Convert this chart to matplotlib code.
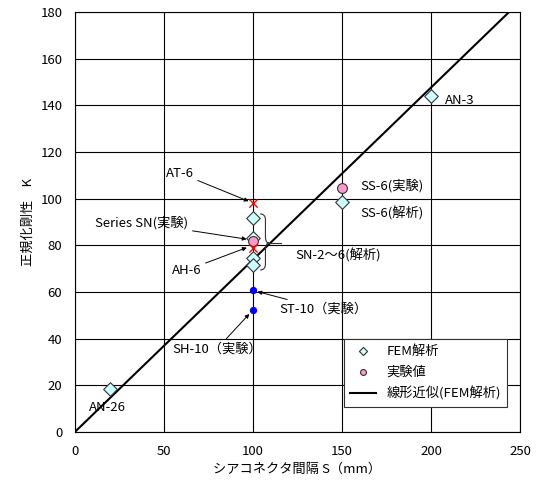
import numpy as np
import matplotlib
matplotlib.use("Agg")
import matplotlib.pyplot as plt
from matplotlib.path import Path
from matplotlib.patches import PathPatch

plt.rcParams['font.family'] = ['Noto Sans CJK JP', 'DejaVu Sans']

# FEM解析 (diamonds)
fem_x = [20, 200, 150, 100, 100, 100, 100]
fem_y = [18.5, 144, 98.5, 91.7, 83, 74.5, 71.5]

# 実験値 (pink circles)
exp_x = [100, 150]
exp_y = [82, 104.5]

# AT-6 / AH-6 (red crosses)
cross_x = [100, 100]
cross_y = [98, 79]

# ST-10 / SH-10 (blue dots)
dot_x = [100, 100]
dot_y = [61, 52.5]

# fit through origin on FEM results
fx = np.array(fem_x, dtype=float)
fy = np.array(fem_y, dtype=float)
slope = (fx * fy).sum() / (fx * fx).sum()

fig = plt.figure(figsize=(5.38, 4.86), dpi=100)
ax = fig.add_axes([0.139, 0.111, 0.828, 0.864])

ax.set_xlim(0, 250)
ax.set_ylim(0, 180)
ax.set_xticks([0, 50, 100, 150, 200, 250])
ax.set_yticks(range(0, 181, 20))
ax.grid(True, color='k', lw=0.8)
ax.set_axisbelow(True)
ax.tick_params(direction='in', length=0, labelsize=9.5, pad=9)
for s in ax.spines.values():
    s.set_linewidth(0.8)

line_x = np.array([0, 250])
ax.plot(line_x, slope * line_x, color='k', lw=1.5, label='線形近似(FEM解析)', zorder=3)

ax.scatter(fem_x, fem_y, marker='D', s=48, facecolor='#ccffff', edgecolor='#333333',
           linewidth=0.8, zorder=4, label='FEM解析')
ax.scatter(exp_x, exp_y, marker='o', s=50, facecolor='#ff99cc', edgecolor='#333333',
           linewidth=0.8, zorder=5, label='実験値')
ax.scatter(cross_x, cross_y, marker='x', s=35, color='red', linewidth=1.0, zorder=6)
ax.scatter(dot_x, dot_y, marker='o', s=18, color='blue', zorder=6)

# brace for SN-2~6
verts = [(104, 93.5), (107, 93.5), (107, 91), (107, 84), (107, 81), (109, 81),
         (107, 81), (107, 78), (107, 72), (107, 69.5), (104, 69.5)]
codes = [Path.MOVETO, Path.CURVE3, Path.CURVE3, Path.LINETO, Path.CURVE3, Path.CURVE3,
         Path.CURVE3, Path.CURVE3, Path.LINETO, Path.CURVE3, Path.CURVE3]
ax.add_patch(PathPatch(Path(verts, codes), facecolor='none', edgecolor='#333333', lw=0.8, zorder=3))
ax.plot([109, 116], [81, 81], color='#333333', lw=0.8, zorder=3)

fs = 9.5
ax.text(208, 142.3, 'AN-3', fontsize=fs, va='center')
ax.text(160.5, 105.4, 'SS-6(実験)', fontsize=fs, va='center')
ax.text(160, 93.9, 'SS-6(解析)', fontsize=fs, va='center')
ax.text(124, 75.9, 'SN-2～6(解析)', fontsize=fs, va='center')
ax.text(8, 10.7, 'AN-26', fontsize=fs, va='center')

arrow = dict(arrowstyle='-|>', color='k', lw=0.7, mutation_scale=6, shrinkA=1, shrinkB=2)
ax.annotate('AT-6', xy=(99, 98.5), xytext=(51, 111), fontsize=fs, va='center',
            arrowprops=arrow)
ax.annotate('Series SN(実験)', xy=(98, 82.5), xytext=(11.5, 89.6), fontsize=fs,
            va='center', arrowprops=arrow)
ax.annotate('AH-6', xy=(98, 79.5), xytext=(54.5, 69.4), fontsize=fs, va='center',
            arrowprops=arrow)
ax.annotate('ST-10（実験）', xy=(101, 60.5), xytext=(115, 52.7), fontsize=fs,
            va='center', arrowprops=arrow)
ax.annotate('SH-10（実験）', xy=(99, 51.5), xytext=(54.5, 35.6), fontsize=fs,
            va='center', arrowprops=arrow)

handles, labels = ax.get_legend_handles_labels()
order = [1, 2, 0]
leg = ax.legend([handles[i] for i in order], [labels[i] for i in order],
                loc='lower right', bbox_to_anchor=(0.985, 0.045), fontsize=9.5,
                frameon=True, fancybox=False, edgecolor='#333333', framealpha=1,
                handlelength=2.0, markerscale=0.6, borderpad=0.45, labelspacing=0.6)
leg.get_frame().set_linewidth(0.8)

ax.set_xlabel('シアコネクタ間隔 S（mm）', fontsize=9.5, labelpad=4)
ax.set_ylabel('正規化剛性　K', fontsize=9.5, labelpad=4)

fig.savefig('out.png', dpi=100)
